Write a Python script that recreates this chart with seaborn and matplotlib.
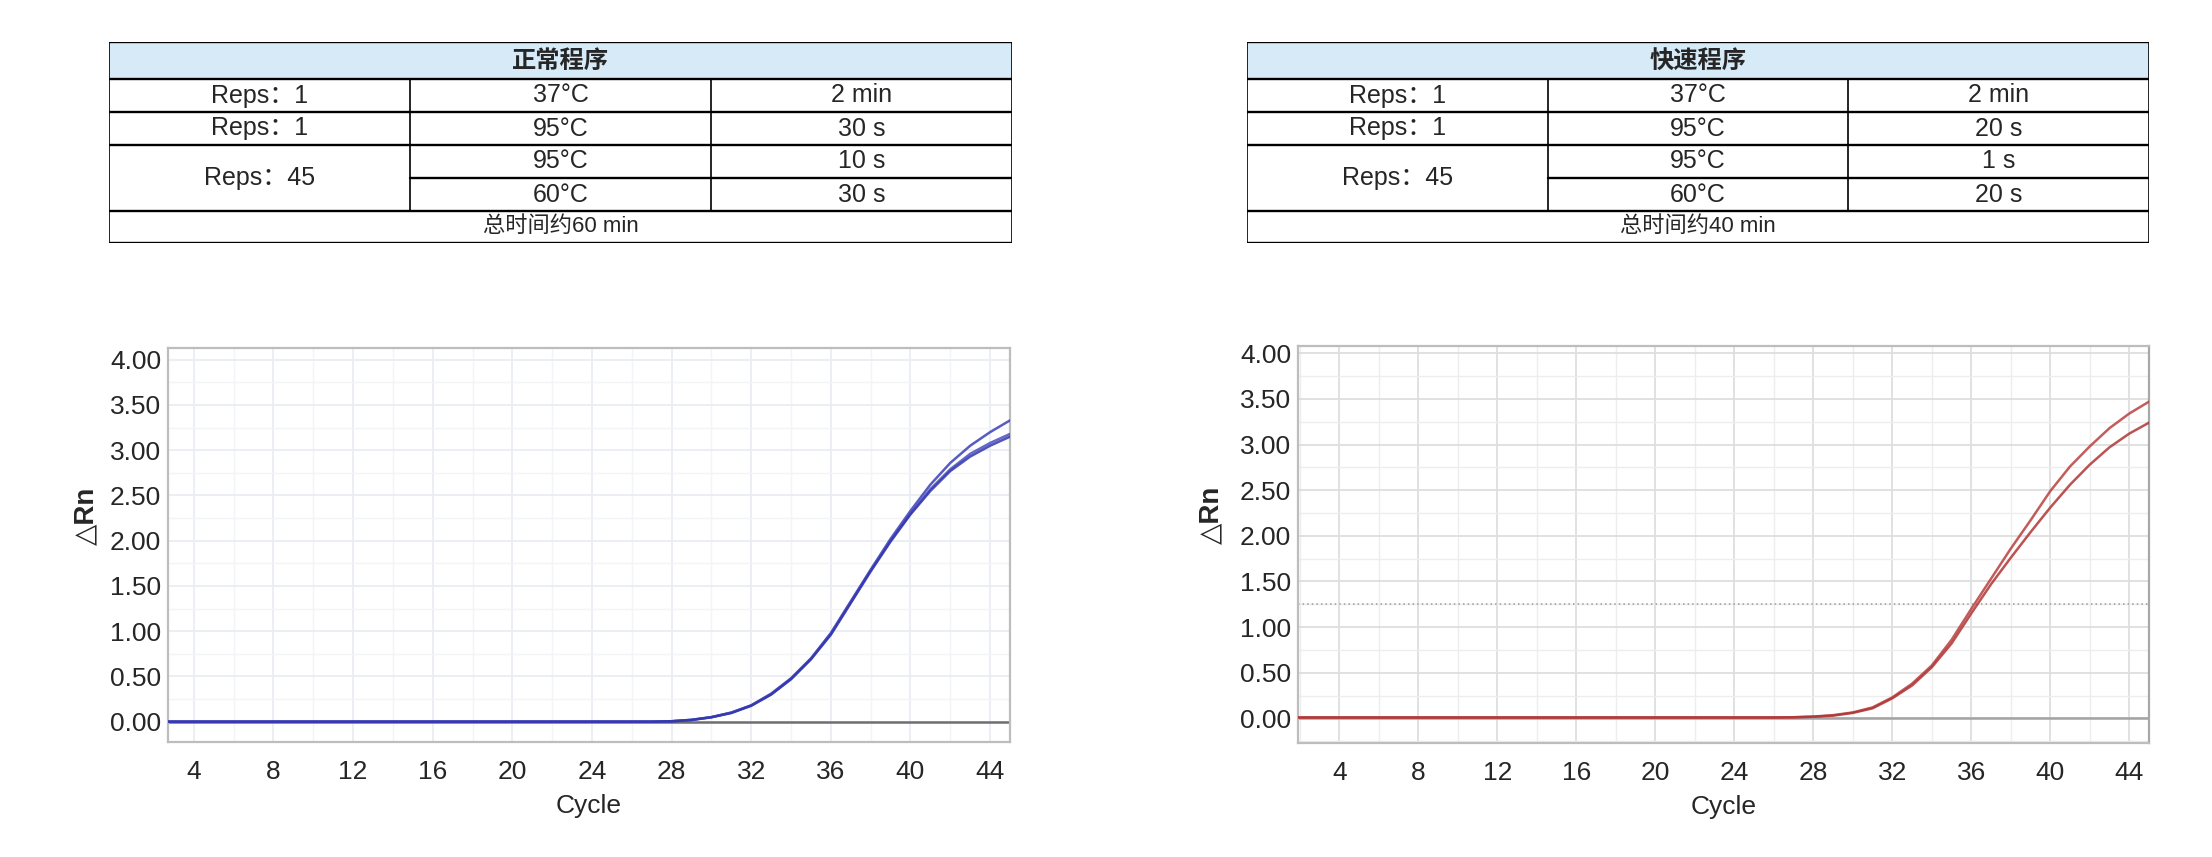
import numpy as np
import pandas as pd
import matplotlib
matplotlib.use('Agg')
import matplotlib.pyplot as plt
import seaborn as sns
from matplotlib.ticker import MultipleLocator, FormatStrFormatter

sns.set_style('white')
plt.rcParams['font.family'] = ['Liberation Sans', 'Noto Sans CJK SC', 'DejaVu Sans']

W, H = 2212, 857

# ---- table contents ----
titles = ['正常程序', '快速程序']
rep_labels = ['Reps：1', 'Reps：1', 'Reps：45']
temps = ['37°C', '95°C', '95°C', '60°C']
normal_times = ['2 min', '30 s', '10 s', '30 s']
fast_times = ['2 min', '20 s', '1 s', '20 s']
totals = ['总时间约60 min', '总时间约40 min']

# ---- amplification curves (delta Rn per cycle) ----
cycles = list(range(1, 46))
base27 = [0.0] * 27
normal_a = base27 + [0.005, 0.02, 0.05, 0.10, 0.18, 0.31, 0.48, 0.70, 0.98, 1.33,
                     1.68, 2.02, 2.33, 2.62, 2.86, 3.05, 3.20, 3.33]
normal_b = base27 + [0.004, 0.02, 0.05, 0.10, 0.18, 0.30, 0.47, 0.69, 0.97, 1.32,
                     1.67, 2.00, 2.30, 2.57, 2.79, 2.96, 3.08, 3.18]
normal_c = base27 + [0.004, 0.018, 0.048, 0.095, 0.175, 0.30, 0.47, 0.69, 0.96, 1.31,
                     1.66, 1.99, 2.29, 2.55, 2.77, 2.93, 3.05, 3.15]
base26 = [0.01] * 26
fast_a = base26 + [0.012, 0.02, 0.035, 0.065, 0.12, 0.23, 0.38, 0.58, 0.86, 1.20,
                   1.53, 1.86, 2.17, 2.49, 2.76, 2.98, 3.18, 3.34, 3.47]
fast_b = base26 + [0.012, 0.018, 0.03, 0.06, 0.11, 0.22, 0.36, 0.56, 0.82, 1.15,
                   1.47, 1.76, 2.04, 2.31, 2.56, 2.78, 2.97, 3.12, 3.24]
fast_threshold = 1.25


def px_box(x0, y0, x1, y1):
    return [x0 / W, 1 - y1 / H, (x1 - x0) / W, (y1 - y0) / H]


def draw_table(fig, box, title, times, total):
    ax = fig.add_axes(px_box(*box))
    edges = [0, 37, 70, 103, 136, 169, 201]
    ax.set_xlim(0, 3)
    ax.set_ylim(edges[-1], 0)
    ax.axis('off')
    ax.fill_between([0, 3], edges[0], edges[1], color='#d6ebf7', lw=0)
    for y in [edges[0], edges[1], edges[2], edges[3], edges[5], edges[6]]:
        ax.plot([0, 3], [y, y], color='black', lw=1.7, solid_capstyle='projecting')
    ax.plot([1, 3], [edges[4], edges[4]], color='black', lw=1.7)
    for x in [0, 3]:
        ax.plot([x, x], [edges[0], edges[6]], color='black', lw=1.2)
    for x in [1, 2]:
        ax.plot([x, x], [edges[1], edges[5]], color='black', lw=1.2)

    mid = lambda i: (edges[i] + edges[i + 1]) / 2
    ax.text(1.5, mid(0), title, ha='center', va='center', fontsize=17.5,
            fontweight='bold', family=['Noto Sans CJK SC'])
    rep_y = [mid(1), mid(2), edges[4]]
    for lab, y in zip(rep_labels, rep_y):
        ax.text(0.5, y, lab, ha='center', va='center', fontsize=18)
    for i, (t, s) in enumerate(zip(temps, times)):
        ax.text(1.5, mid(i + 1), t, ha='center', va='center', fontsize=18)
        ax.text(2.5, mid(i + 1), s, ha='center', va='center', fontsize=18)
    ax.text(1.5, mid(5), total, ha='center', va='center', fontsize=16)


def draw_curves(fig, box, curves, palette, xlim, ylim, grid_major, grid_minor,
                base_color, ylabel_x):
    ax = fig.add_axes(px_box(*box))
    df = pd.DataFrame({
        'Cycle': cycles * len(curves),
        'dRn': np.concatenate(curves),
        'well': np.repeat(np.arange(len(curves)), len(cycles)),
    })
    ax.xaxis.set_major_locator(MultipleLocator(4))
    ax.xaxis.set_minor_locator(MultipleLocator(2))
    ax.yaxis.set_major_locator(MultipleLocator(0.5))
    ax.yaxis.set_minor_locator(MultipleLocator(0.25))
    ax.grid(which='major', color=grid_major, lw=1.3)
    ax.grid(which='minor', color=grid_minor, lw=1.0)
    ax.set_axisbelow(True)
    ax.axhline(0, color=base_color, lw=1.8, zorder=2)
    sns.lineplot(data=df, x='Cycle', y='dRn', hue='well', palette=palette,
                 estimator=None, legend=False, lw=1.8, alpha=0.85, ax=ax, zorder=3)
    ax.set_xlim(*xlim)
    ax.set_ylim(*ylim)
    ax.yaxis.set_major_formatter(FormatStrFormatter('%.2f'))
    ax.tick_params(axis='both', which='major', labelsize=19, direction='in',
                   length=4, width=1, color='#8a8a8a')
    ax.tick_params(axis='x', which='major', pad=13)
    ax.tick_params(axis='y', which='major', pad=5)
    ax.tick_params(axis='both', which='minor', direction='in', length=3,
                   width=1, color='#9a9a9a')
    for sp in ax.spines.values():
        sp.set_color('#bdbdbd')
        sp.set_linewidth(1.6)
    ax.set_xlabel('Cycle', fontsize=19, labelpad=7)
    ax.set_ylabel('△Rn', fontsize=20, fontweight='bold',
                  family=['Liberation Sans', 'DejaVu Sans'])
    ax.yaxis.set_label_coords(ylabel_x, 0.575)
    return ax


fig = plt.figure(figsize=(W / 100, H / 100), dpi=100)

draw_table(fig, (109, 42, 1012, 243), titles[0], normal_times, totals[0])
draw_table(fig, (1247, 42, 2149, 243), titles[1], fast_times, totals[1])

draw_curves(fig, (168, 348, 1010, 742), [normal_a, normal_b, normal_c],
            ['#3b3fb8', '#4a4ec0', '#3236ad'], (2.7, 45.0), (-0.225, 4.13),
            '#e9edf2', '#f2f4f7', '#6f6f6f', -0.082)
ax_fast = draw_curves(fig, (1298, 346, 2149, 743), [fast_a, fast_b],
                      ['#b8403f', '#b03535'], (1.9, 45.0), (-0.27, 4.08),
                      '#dedede', '#ededed', '#a3a3a3', -0.086)
ax_fast.axhline(fast_threshold, color='#9a9a9a', lw=1.1, ls=(0, (1, 2)), zorder=2)
ax_fast.spines['right'].set_color('#a8a8a8')

fig.savefig('out.png', dpi=100)
